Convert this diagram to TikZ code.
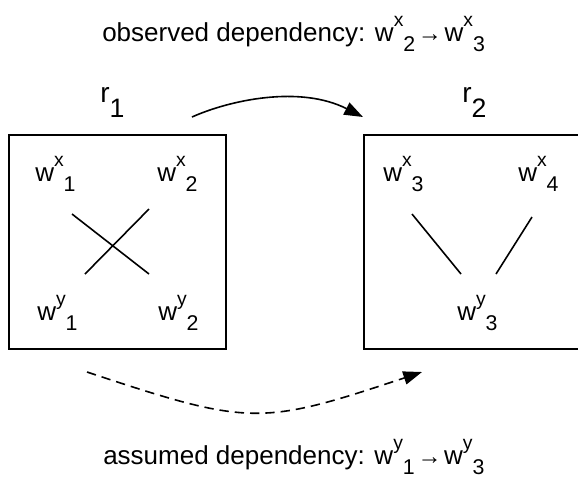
\documentclass[tikz,border=0pt]{standalone}
\usepackage{fontspec}
\setmainfont{Liberation Sans}
\usetikzlibrary{arrows.meta}
\newcommand{\wvar}[2]{w\raisebox{0.55em}{\fontsize{14.5}{15}\selectfont #1}\raisebox{-0.4em}{\fontsize{16}{17}\selectfont #2}}
\newcommand{\rvar}[1]{r\raisebox{-0.55em}{\fontsize{20}{22}\selectfont #1}}
\newcommand{\deparrow}{\hspace{2pt}{\fontsize{18}{19}\selectfont →}\hspace{2pt}}

\begin{document}
\begin{tikzpicture}[x=0.75pt, y=-0.75pt, >={Triangle[length=14pt,width=10pt]},
  lbl/.style={inner sep=0pt, anchor=base west, font=\fontsize{19.5}{22}\selectfont},
  rlbl/.style={inner sep=0pt, anchor=base west, font=\fontsize{21}{24}\selectfont},
  regbox/.style={draw, line width=1.2pt, minimum width=162.75pt, minimum height=160.5pt, inner sep=0pt},
  link/.style={line width=1.2pt}]
\useasboundingbox (0,0) rectangle (578,480);
\clip (0,0) rectangle (578,480);

% the two regions
\node[regbox] (box1) at (117.5,242) {};
\node[regbox] (box2) at (472.5,242) {};
\node[rlbl] (r1) at (100,102) {\rvar{1}};
\node[rlbl] (r2) at (462,102) {\rvar{2}};

% writes in r1
\node[lbl] (wx1) at (35,181) {\wvar{x}{1}};
\node[lbl] (wx2) at (157,181) {\wvar{x}{2}};
\node[lbl] (wy1) at (37,320) {\wvar{y}{1}};
\node[lbl] (wy2) at (158,320) {\wvar{y}{2}};
\coordinate (c1a) at (72,214);  \coordinate (c1b) at (149,274);
\coordinate (c2a) at (149,209); \coordinate (c2b) at (85,274);
\draw[link] (c1a) -- (c1b);
\draw[link] (c2a) -- (c2b);

% writes in r2
\node[lbl] (wx3) at (383,181) {\wvar{x}{3}};
\node[lbl] (wx4) at (518,181) {\wvar{x}{4}};
\node[lbl] (wy3) at (457,320) {\wvar{y}{3}};
\coordinate (c3a) at (412,214); \coordinate (c3b) at (461,274);
\coordinate (c4a) at (532,217); \coordinate (c4b) at (496,274);
\draw[link] (c3a) -- (c3b);
\draw[link] (c4a) -- (c4b);

% dependencies
\coordinate (obsA) at (192,117); \coordinate (obsB) at (363,117);
\draw[link,->] (obsA) .. controls (230,100) and (300,85) .. (obsB);
\coordinate (asmA) at (87,372); \coordinate (asmB) at (422,372);
\draw[link,->,dash pattern=on 7pt off 4.5pt] (asmA) .. controls (250,426) and (260,426) .. (asmB);

\node[lbl] (obs) at (102,41) {observed dependency: \wvar{x}{2}\deparrow\wvar{x}{3}};
\node[lbl] (asm) at (103,464) {assumed dependency: \wvar{y}{1}\deparrow\wvar{y}{3}};
\end{tikzpicture}
\end{document}
